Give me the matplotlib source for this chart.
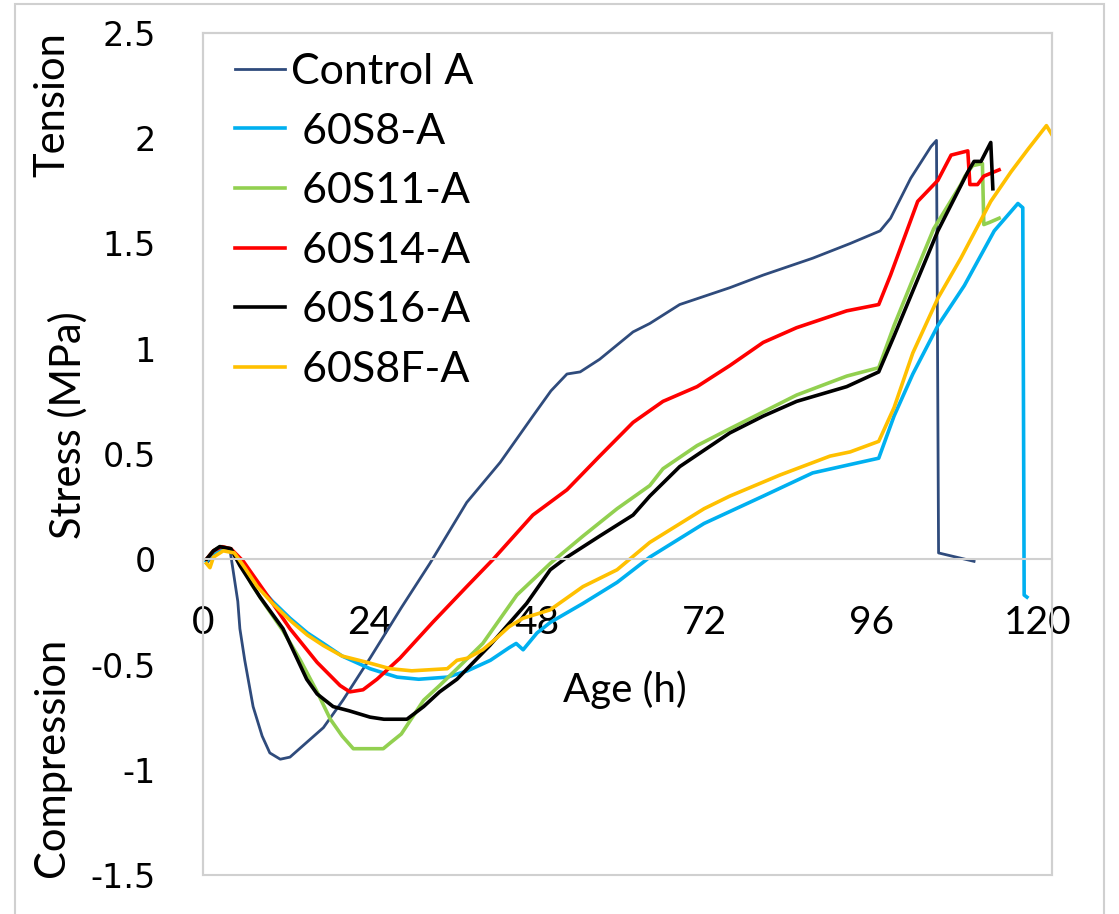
import matplotlib
matplotlib.use("Agg")
import matplotlib.pyplot as plt
from matplotlib.patches import Rectangle

# ---- data (age in h, stress in MPa) ----
ctrl_x = [0.5, 1.5, 3.0, 3.9, 5.0, 5.3, 6.0, 7.2, 8.5, 9.6, 11.1, 12.5, 14.9, 17.3, 20.1,
          24.0, 28.5, 32.6, 37.9, 42.7, 47.4, 50.0, 52.3, 54.2, 57.0, 61.8, 64.2, 68.5,
          75.7, 80.5, 87.6, 93.0, 97.3, 98.8, 101.7, 104.6, 105.4, 105.7, 110.8]
ctrl_y = [-0.02, 0.02, 0.05, 0.04, -0.20, -0.33, -0.48, -0.70, -0.84, -0.92, -0.95, -0.94,
          -0.87, -0.80, -0.67, -0.47, -0.23, -0.02, 0.27, 0.46, 0.68, 0.80, 0.88, 0.89, 0.95,
          1.08, 1.12, 1.21, 1.29, 1.35, 1.43, 1.50, 1.56, 1.62, 1.81, 1.96, 1.99, 0.03, -0.01]

s8_x = [0.5, 1.5, 3.0, 4.5, 6.0, 7.8, 10.0, 12.5, 15.0, 17.3, 20.0, 24.0, 27.9, 31.0, 35.1,
        38.0, 41.3, 44.0, 45.0, 46.0, 48.0, 49.9, 54.6, 59.5, 64.2, 72.0, 80.5, 87.6, 93.0,
        97.1, 99.3, 102.0, 105.6, 109.4, 113.7, 117.1, 117.8, 118.0, 118.4]
s8_y = [-0.01, 0.03, 0.05, 0.03, -0.05, -0.12, -0.20, -0.28, -0.35, -0.40, -0.46, -0.52,
        -0.56, -0.57, -0.56, -0.53, -0.48, -0.42, -0.40, -0.43, -0.35, -0.30, -0.21, -0.11,
        0.01, 0.17, 0.30, 0.41, 0.45, 0.48, 0.68, 0.88, 1.11, 1.30, 1.56, 1.69, 1.67, -0.17,
        -0.18]

s11_x = [0.5, 1.5, 2.5, 4.0, 5.5, 7.0, 9.0, 11.5, 14.0, 16.4, 18.3, 20.0, 21.6, 24.0, 25.9,
         27.0, 28.5, 29.5, 31.7, 34.0, 36.5, 40.2, 45.1, 49.9, 54.6, 59.5, 64.2, 66.1, 71.0,
         75.7, 80.5, 85.3, 92.5, 97.1, 99.3, 102.0, 105.0, 108.9, 109.5, 110.6, 112.0, 112.2,
         113.0, 114.4]
s11_y = [0.0, 0.04, 0.06, 0.05, -0.02, -0.12, -0.22, -0.34, -0.48, -0.63, -0.76, -0.84,
         -0.90, -0.90, -0.90, -0.87, -0.83, -0.78, -0.67, -0.60, -0.52, -0.40, -0.17, -0.02,
         0.11, 0.24, 0.35, 0.43, 0.54, 0.62, 0.70, 0.78, 0.87, 0.91, 1.11, 1.33, 1.57, 1.78,
         1.82, 1.87, 1.88, 1.59, 1.60, 1.62]

s14_x = [0.5, 1.5, 2.7, 4.0, 5.8, 7.5, 9.2, 12.5, 16.4, 19.7, 21.1, 23.0, 25.0, 28.3, 33.0,
         37.9, 41.7, 47.4, 52.3, 57.0, 61.8, 66.1, 71.0, 75.7, 80.5, 85.3, 92.5, 97.1, 98.8,
         102.7, 105.6, 107.5, 109.9, 110.2, 111.3, 112.2, 114.4]
s14_y = [0.0, 0.04, 0.06, 0.05, -0.01, -0.09, -0.17, -0.33, -0.49, -0.60, -0.63, -0.62,
         -0.57, -0.47, -0.30, -0.13, 0.0, 0.21, 0.33, 0.49, 0.65, 0.75, 0.82, 0.92, 1.03,
         1.10, 1.18, 1.21, 1.35, 1.70, 1.80, 1.92, 1.94, 1.78, 1.78, 1.82, 1.85]

s16_x = [0.5, 1.5, 2.4, 4.0, 5.3, 8.2, 11.5, 14.9, 16.4, 18.7, 21.0, 24.0, 26.0, 29.3, 31.7,
         34.0, 36.5, 41.2, 46.5, 49.9, 52.3, 57.0, 61.8, 64.2, 68.5, 75.7, 80.5, 85.3, 92.5,
         97.1, 99.3, 105.6, 109.9, 110.8, 111.8, 113.2, 113.5]
s16_y = [0.0, 0.04, 0.06, 0.05, -0.03, -0.18, -0.33, -0.57, -0.64, -0.70, -0.72, -0.75,
         -0.76, -0.76, -0.70, -0.63, -0.57, -0.41, -0.21, -0.05, 0.01, 0.11, 0.21, 0.30, 0.44,
         0.60, 0.68, 0.75, 0.82, 0.89, 1.06, 1.56, 1.84, 1.89, 1.89, 1.98, 1.76]

s8f_x = [0.5, 1.0, 1.5, 2.9, 4.5, 6.0, 7.8, 10.0, 12.5, 15.0, 17.3, 20.0, 23.6, 26.9, 30.0,
         35.1, 36.5, 38.0, 40.2, 42.0, 44.0, 46.0, 48.0, 49.9, 54.6, 59.5, 64.2, 72.0, 75.7,
         82.9, 90.1, 93.0, 97.1, 99.3, 102.0, 105.6, 108.9, 113.2, 116.1, 118.6, 121.2, 122.3]
s8f_y = [-0.02, -0.04, 0.01, 0.04, 0.03, -0.04, -0.13, -0.21, -0.29, -0.36, -0.41, -0.46,
         -0.49, -0.52, -0.53, -0.52, -0.48, -0.47, -0.43, -0.38, -0.32, -0.28, -0.26, -0.24,
         -0.13, -0.05, 0.08, 0.24, 0.30, 0.40, 0.49, 0.51, 0.56, 0.72, 0.98, 1.24, 1.43, 1.70,
         1.84, 1.95, 2.06, 2.00]

SERIES = [
    ('Control A', ctrl_x, ctrl_y, '#2F4B7C', 2.0),
    (' 60S8-A', s8_x, s8_y, '#00B0F0', 2.6),
    (' 60S11-A', s11_x, s11_y, '#92D050', 2.6),
    (' 60S14-A', s14_x, s14_y, '#FF0000', 2.6),
    (' 60S16-A', s16_x, s16_y, '#000000', 2.6),
    (' 60S8F-A', s8f_x, s8f_y, '#FFC000', 2.6),
]
x_ticks = [0, 24, 48, 72, 96, 120]
y_ticks = [-1.5, -1, -0.5, 0, 0.5, 1, 1.5, 2, 2.5]
y_ticklabels = ['-1.5', '-1', '-0.5', '0', '0.5', '1', '1.5', '2', '2.5']

W, H = 1119, 914
fig = plt.figure(figsize=(W / 100, H / 100), dpi=100)
ax = fig.add_axes([203 / W, 1 - 875 / H, 849 / W, 842 / H])

GRID = '#D0D0D0'
for lab, xs, ys, c, lw in SERIES:
    ax.plot(xs, ys, color=c, lw=lw, label=lab, solid_joinstyle='round')

ax.set_xlim(0, 122)
ax.set_ylim(-1.5, 2.5)
for s in ('left', 'right', 'top'):
    ax.spines[s].set_color(GRID)
    ax.spines[s].set_linewidth(1.5)
ax.spines['bottom'].set_position(('data', 0))
ax.spines['bottom'].set_color(GRID)
ax.spines['bottom'].set_linewidth(1.5)
ax.add_patch(Rectangle((0, 0), 1, 1, transform=ax.transAxes, fill=False,
                       ec=GRID, lw=1.5, clip_on=False, zorder=0))

ax.set_xticks(x_ticks)
ax.set_yticks(y_ticks)
ax.set_yticklabels(y_ticklabels)
ax.tick_params(axis='x', length=0, pad=33, labelsize=28)
ax.tick_params(axis='y', length=0, pad=34, labelsize=24)
for t in ax.get_xticklabels():
    t.set_fontfamily('Lato')
for t in ax.get_yticklabels():
    t.set_fontfamily('DejaVu Sans')

leg = ax.legend(loc='upper left', bbox_to_anchor=(32 / 849, 1 - 20 / 842),
                frameon=False, borderaxespad=0, borderpad=0,
                handlelength=1.15, handletextpad=0.15, labelspacing=0.5,
                prop={'family': 'Lato', 'size': 31})

fig.text(625 / W, 1 - 690 / H, 'Age (h)', ha='center', va='center',
         family='Lato', fontsize=29)
fig.text(52 / W, 1 - 105 / H, 'Tension', rotation=90, ha='center', va='center',
         family='Lato', fontsize=30)
fig.text(68 / W, 1 - 425 / H, 'Stress (MPa)', rotation=90, ha='center', va='center',
         family='Lato', fontsize=30)
fig.text(52 / W, 1 - 757 / H, 'Compression', rotation=90, ha='center', va='center',
         family='Lato', fontsize=30)

fig.patches.append(Rectangle((15 / W, -0.01), (1104 - 15) / W, 1.01 - 4 / H,
                             transform=fig.transFigure, fill=False, ec='#D0D0D0', lw=1.5))

fig.savefig('out.png', dpi=100)
